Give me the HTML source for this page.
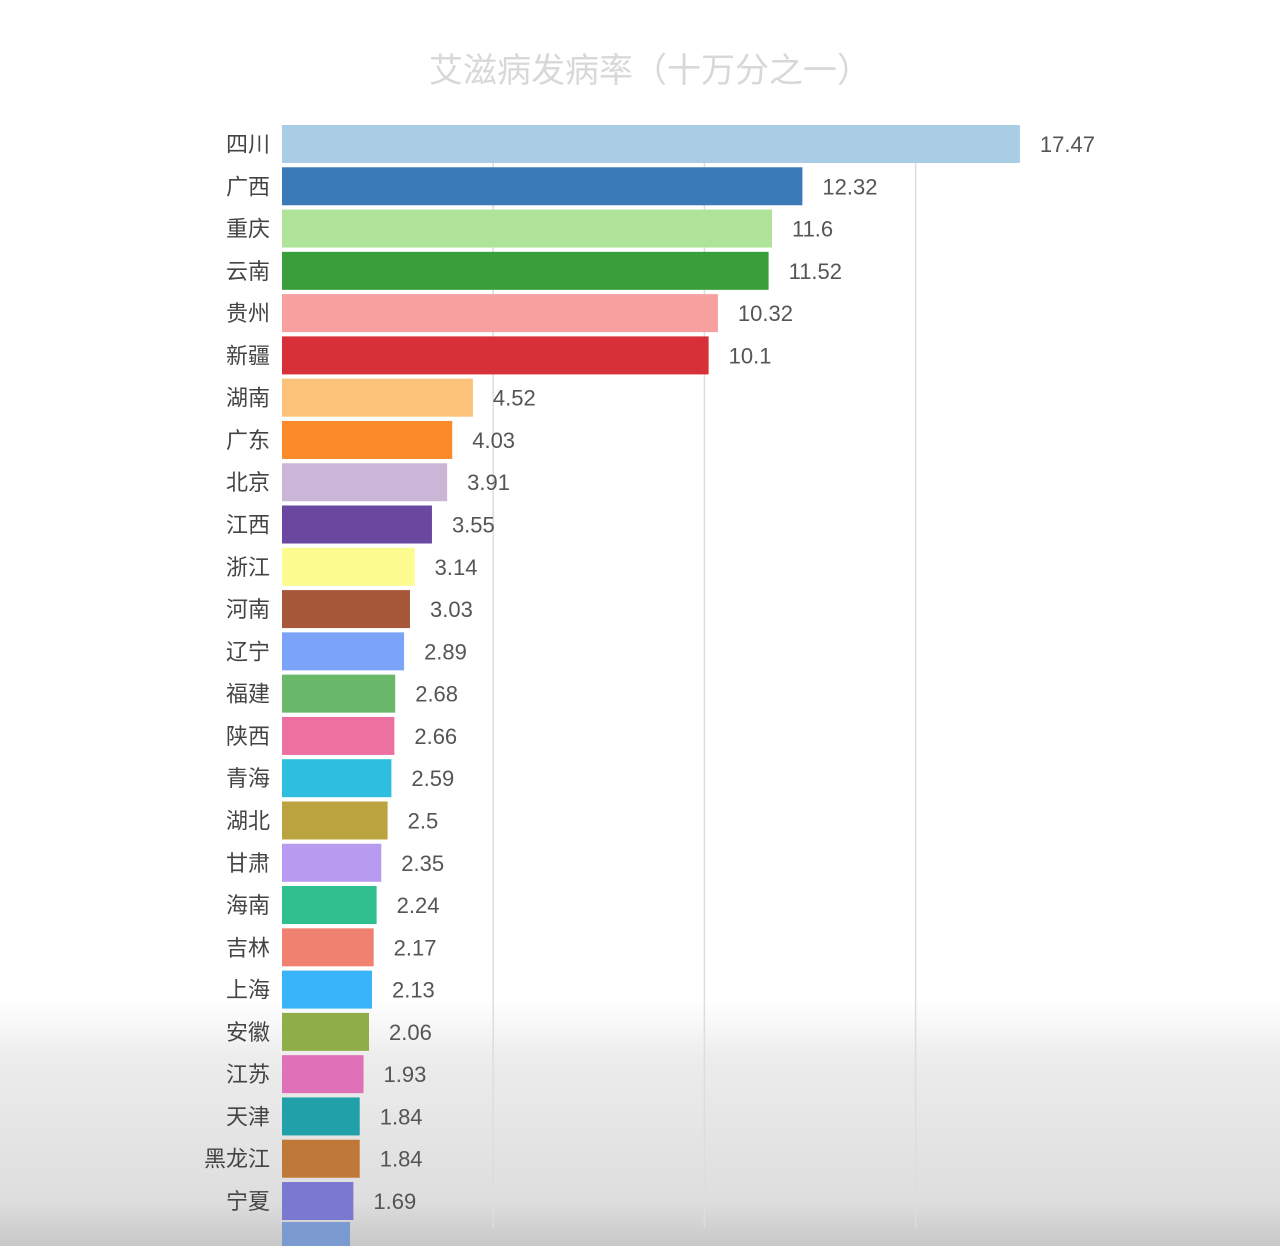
<!DOCTYPE html>
<html><head><meta charset="utf-8">
<style>
html,body{margin:0;padding:0;width:1280px;height:1246px;overflow:hidden;background:#fff}
#bg{position:absolute;left:0;top:0;width:1280px;height:1246px;background:linear-gradient(to bottom,#fff 0,#fff 1000px,#ececec 1060px,#dedede 1200px,#c8c8c8 1246px)}
svg{position:absolute;left:0;top:0}
text{font-family:"Liberation Sans","Noto Sans CJK SC",sans-serif}
</style></head>
<body>
<div id="bg"></div>
<svg id="chart" width="1280" height="1246">
<text x="650" y="82" text-anchor="middle" font-size="34" fill="#d8d8d8">艾滋病发病率（十万分之一）</text>
<g id="grid"></g><g id="bars"></g>
</svg>
<script>
const categories=["四川","广西","重庆","云南","贵州","新疆","湖南","广东","北京","江西","浙江","河南","辽宁","福建","陕西","青海","湖北","甘肃","海南","吉林","上海","安徽","江苏","天津","黑龙江","宁夏"];
const values=[17.47,12.32,11.6,11.52,10.32,10.1,4.52,4.03,3.91,3.55,3.14,3.03,2.89,2.68,2.66,2.59,2.5,2.35,2.24,2.17,2.13,2.06,1.93,1.84,1.84,1.69];
const labels=["17.47","12.32","11.6","11.52","10.32","10.1","4.52","4.03","3.91","3.55","3.14","3.03","2.89","2.68","2.66","2.59","2.5","2.35","2.24","2.17","2.13","2.06","1.93","1.84","1.84","1.69"];
const gridTicks=[5,10,15];
const colors=["#aacde6","#3a7ab8","#b0e39a","#3a9e3a","#f7a0a0","#d83038","#fcc27a","#fc8a2a","#cbb6d8","#6a48a0","#fdfc90","#a8583a","#7ba4f8","#6ab86a","#ec70a0","#2ebfe0","#bba440","#b89af0","#30c090","#f08070","#3ab4f8","#8fae4a","#e070b8","#20a0a8","#c07838","#7a78d0"];
const NS="http://www.w3.org/2000/svg";
const x=v=>282+v*42.24;
const y=i=>144+i*42.28;
const grid=document.getElementById('grid'),bars=document.getElementById('bars');
gridTicks.forEach(t=>{const l=document.createElementNS(NS,'line');
l.setAttribute('x1',x(t));l.setAttribute('x2',x(t));l.setAttribute('y1',125);l.setAttribute('y2',1228);
l.setAttribute('stroke','#ddd');l.setAttribute('stroke-width','1.5');


grid.appendChild(l);});
categories.forEach((c,i)=>{
const r=document.createElementNS(NS,'rect');
r.setAttribute('x',282);r.setAttribute('y',y(i)-19);r.setAttribute('width',x(values[i])-282);r.setAttribute('height',38);r.setAttribute('fill',colors[i]);


bars.appendChild(r);
const t=document.createElementNS(NS,'text');
t.setAttribute('x',270);t.setAttribute('y',y(i)+8);t.setAttribute('text-anchor','end');t.setAttribute('font-size','22');t.setAttribute('fill','#444');t.textContent=c;


bars.appendChild(t);
const v=document.createElementNS(NS,'text');
v.setAttribute('x',x(values[i])+20);v.setAttribute('y',y(i)+8);v.setAttribute('font-size','22');v.setAttribute('fill','#555');v.textContent=labels[i];


bars.appendChild(v);
});
const p=document.createElementNS(NS,'rect');
p.setAttribute('x',282);p.setAttribute('y',1222);p.setAttribute('width',68);p.setAttribute('height',24);p.setAttribute('fill','#7a9ad0');


bars.appendChild(p);
</script>
</body></html>
